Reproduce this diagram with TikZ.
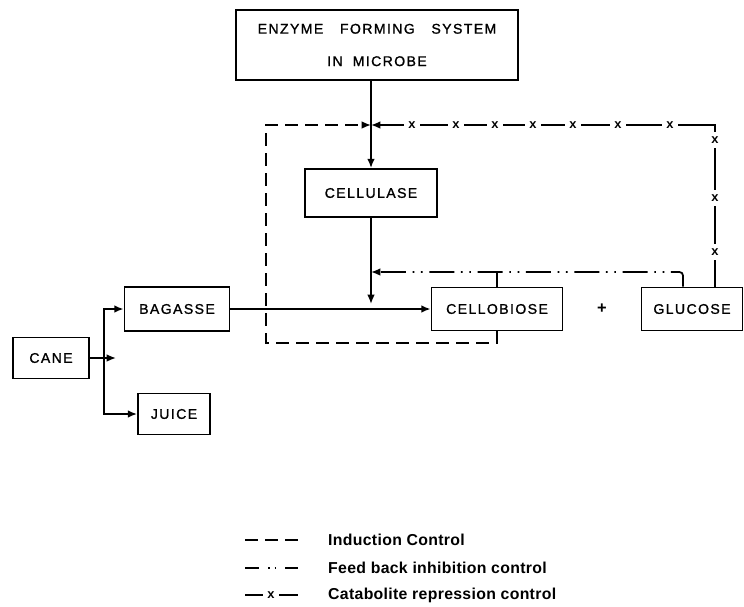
\documentclass[tikz,border=0pt]{standalone}
\usepackage{fontspec}
\setmainfont{Liberation Sans}
\newfontfamily\boxfont[LetterSpace=10,FakeBold=1.2]{Liberation Sans}
\newfontfamily\keyfont[LetterSpace=2]{Liberation Sans Bold}
\usetikzlibrary{arrows.meta,positioning,calc}
\tikzset{
  unitbox/.style={draw,line width=1.5pt,inner sep=0pt,align=center,
    font=\boxfont\fontsize{12}{14}\selectfont},
  flow/.style={line width=1.5pt,-{Latex[length=2.8mm,width=2.3mm]}},
  induction/.style={line width=1.5pt,dash pattern=on 0.39cm off 0.21cm},
  feedback/.style={line width=1.5pt,dash pattern=on 0.75cm off 0.2cm on 0.05cm off 0.2cm on 0.05cm off 0.2cm},
  keyfb/.style={line width=1.5pt,dash pattern=on 0.42cm off 0.27cm on 0.05cm off 0.15cm on 0.05cm off 0.27cm},
  catab/.style={line width=1.5pt},
  xmark/.style={fill=white,inner xsep=4pt,inner ysep=1pt,font=\bfseries\fontsize{11}{12}\selectfont},
  keytext/.style={anchor=west,inner sep=0pt,font=\keyfont\fontsize{13.5}{15}\selectfont}
}
\begin{document}
\begin{tikzpicture}[x=0.03cm,y=-0.03cm]
\useasboundingbox (0,0) rectangle (744,607);
% boxes
\node[unitbox,minimum width=8.46cm,minimum height=2.1cm] (enzyme) at (377,45)
  {ENZYME\hspace{0.5cm}FORMING\hspace{0.5cm}SYSTEM\\[0.48cm]IN\hspace{0.3cm}MICROBE};
\node[unitbox,minimum width=3.96cm,minimum height=1.44cm] (cellulase) at (371,193) {CELLULASE};
\node[unitbox,minimum width=3.93cm,minimum height=1.29cm] (cellobiose) at (497,309) {CELLOBIOSE};
\node[unitbox,minimum width=3.03cm,minimum height=1.29cm] (glucose) at (692,309) {GLUCOSE};
\node[font=\bfseries\fontsize{14}{15}\selectfont] (plus) at (602,309) {+};
\node[unitbox,minimum width=3.15cm,minimum height=1.32cm] (bagasse) at (177,309) {BAGASSE};
\node[unitbox,minimum width=2.28cm,minimum height=1.23cm] (cane) at (51,358) {CANE};
\node[unitbox,minimum width=2.16cm,minimum height=1.23cm] (juice) at (174,414) {JUICE};
% cane splits
\coordinate (fork) at (104,358);
\coordinate (forktip) at (116,358);
\draw[flow] (cane.east) -- (forktip);
\draw[flow] (fork) |- (bagasse.west);
\draw[flow] (fork) |- (juice.west);
% main flow
\coordinate (mix) at (cellulase.south |- cellobiose.west);
\draw[flow] (cellulase.north |- enzyme.south) -- (cellulase.north);
\draw[flow,shorten >=0.15cm] (cellulase.south) -- (mix);
\draw[flow] (bagasse.east) -- (cellobiose.west);
% induction control
\coordinate (inlet) at (371,125);
\coordinate (indloop) at (266,343);
\draw[induction,flow] (cellobiose.south) |- (indloop) |- (inlet);
% feed back inhibition
\coordinate (fbright) at (683,272);
\coordinate (fbleft) at (cellulase.south |- fbright);
\draw[feedback,flow,rounded corners=3pt] (fbright |- glucose.north) -- (fbright) -- (fbleft);
\draw[line width=1.5pt] (cellobiose.north) -- (cellobiose.north |- fbright);
% catabolite repression
\coordinate (catcorner) at (715,125);
\draw[catab,flow] (catcorner |- glucose.north) -- (catcorner) -- (inlet);
\foreach \x in {412,456,495,533,573,618,670}
  \node[xmark] (cx\x) at (\x,125) {x};
\foreach \y in {140,198,252}
  \node[xmark,inner xsep=1pt,inner ysep=4pt] (cy\y) at (715,\y) {x};
% key
\node[keytext] (keyind) at (328,540) {Induction Control};
\node[keytext] (keyfb) at (328,568) {Feed back inhibition control};
\node[keytext] (keycat) at (328,595) {Catabolite repression control};
\draw[induction] ($(keyind.west)+(-83,0)$) -- ++(53,0);
\draw[keyfb] ($(keyfb.west)+(-83,0)$) -- ++(53,0);
\draw[catab] ($(keycat.west)+(-83,0)$) -- ++(53,0);
\node[xmark] (cxkey) at ($(keycat.west)+(-57,0)$) {x};
\end{tikzpicture}
\end{document}
